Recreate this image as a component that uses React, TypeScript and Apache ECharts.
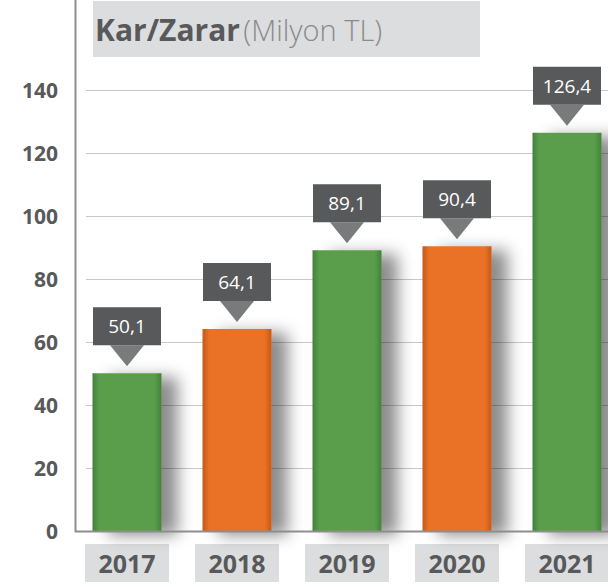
import React, { useEffect, useRef } from "react";
import * as echarts from "echarts";

const years = ["2017", "2018", "2019", "2020", "2021"];
const profit = [50.1, 64.1, 89.1, 90.4, 126.4];
const barKinds = ["green", "orange", "green", "orange", "green"];
const yTicks = [0, 20, 40, 60, 80, 100, 120, 140];

const FONT = "'Open Sans', 'DejaVu Sans', sans-serif";
const DARK = "#58595b";

function barGradient(kind: string) {
  const main = kind === "green" ? "#5a9e4c" : "#e97226";
  const edge = kind === "green" ? "#43803a" : "#c35a1a";
  return new echarts.graphic.LinearGradient(0, 0, 1, 0, [
    { offset: 0, color: edge },
    { offset: 0.1, color: main },
    { offset: 0.9, color: main },
    { offset: 1, color: edge },
  ]);
}

export default function App() {
  const ref = useRef<HTMLDivElement>(null);
  useEffect(() => {
    if (!ref.current) return;
    const chart = echarts.init(ref.current, null, { renderer: "svg" });
    const option: any = {
      animation: false,
      backgroundColor: "#ffffff",
      grid: [
        { left: 86, right: 0, top: 90, bottom: 56, outerBoundsMode: "none" },
        { left: 72, width: 550, top: 90, bottom: 56, outerBoundsMode: "none" },
      ],
      xAxis: [
        { type: "value", gridIndex: 0, show: false, min: 0, max: 1 },
        {
          type: "category",
          gridIndex: 1,
          data: years,
          axisLine: { show: false },
          axisTick: { show: false },
          axisLabel: {
            margin: 13,
            fontFamily: FONT,
            fontWeight: "bold",
            fontSize: 25,
            color: DARK,
            backgroundColor: "#dcdddf",
            width: 84,
            align: "center",
            lineHeight: 26,
            padding: [6, 0, 6, 0],
          },
        },
      ],
      yAxis: [
        {
          type: "value",
          gridIndex: 0,
          min: yTicks[0],
          max: yTicks[yTicks.length - 1],
          interval: 20,
          axisLine: { show: false },
          axisTick: { show: false },
          axisLabel: {
            margin: 28,
            fontFamily: FONT,
            fontWeight: "bold",
            fontSize: 21,
            color: DARK,
          },
          splitLine: { lineStyle: { color: "#c8c8c8", width: 1 } },
        },
        {
          type: "value",
          gridIndex: 1,
          min: yTicks[0],
          max: yTicks[yTicks.length - 1],
          show: false,
        },
      ],
      series: [
        {
          type: "bar",
          xAxisIndex: 1,
          yAxisIndex: 1,
          barWidth: 69,
          z: 3,
          data: profit.map((v, i) => ({
            value: v,
            itemStyle: {
              color: barGradient(barKinds[i]),
              shadowColor: "rgba(0,0,0,0.45)",
              shadowBlur: 16,
              shadowOffsetX: 16,
              shadowOffsetY: 4,
            },
          })),
          label: {
            show: true,
            position: "top",
            distance: 28,
            formatter: (p: any) => p.value.toFixed(1).replace(".", ","),
            fontFamily: FONT,
            fontSize: 19,
            color: "#ffffff",
            backgroundColor: DARK,
            width: 68,
            align: "center",
            lineHeight: 20,
            padding: [9, 0, 9, 0],
          },
        },
        {
          type: "scatter",
          xAxisIndex: 1,
          yAxisIndex: 1,
          z: 4,
          symbol: "triangle",
          symbolRotate: 180,
          symbolSize: [34, 21],
          symbolOffset: [0, -17.5],
          itemStyle: { color: DARK },
          silent: true,
          data: profit,
        },
      ],
      graphic: [
        {
          type: "line",
          z: 10,
          shape: { x1: 75.5, y1: 0, x2: 75.5, y2: 532 },
          style: { stroke: "#8e8e8e", lineWidth: 2 },
        },
        {
          type: "line",
          z: 10,
          shape: { x1: 75, y1: 531.5, x2: 608, y2: 531.5 },
          style: { stroke: "#8e8e8e", lineWidth: 2 },
        },
        {
          type: "rect",
          shape: { x: 93, y: 1, width: 387, height: 56 },
          style: { fill: "#dcdddf" },
        },
        {
          type: "text",
          x: 95,
          y: 29,
          style: {
            text: "{a|Kar/Zarar} {b|(Milyon TL)}",
            verticalAlign: "middle",
            rich: {
              a: { fontFamily: FONT, fontWeight: "bold", fontSize: 30, fill: DARK, color: DARK },
              b: { fontFamily: FONT, fontWeight: 300, fontSize: 29, fill: "#8a8a8a", color: "#8a8a8a" },
            },
          },
        },
      ],
    };
    chart.setOption(option);
    return () => chart.dispose();
  }, []);
  return <div ref={ref} style={{ width: 608, height: 587, position: "absolute", left: 0, top: 0 }} />;
}
